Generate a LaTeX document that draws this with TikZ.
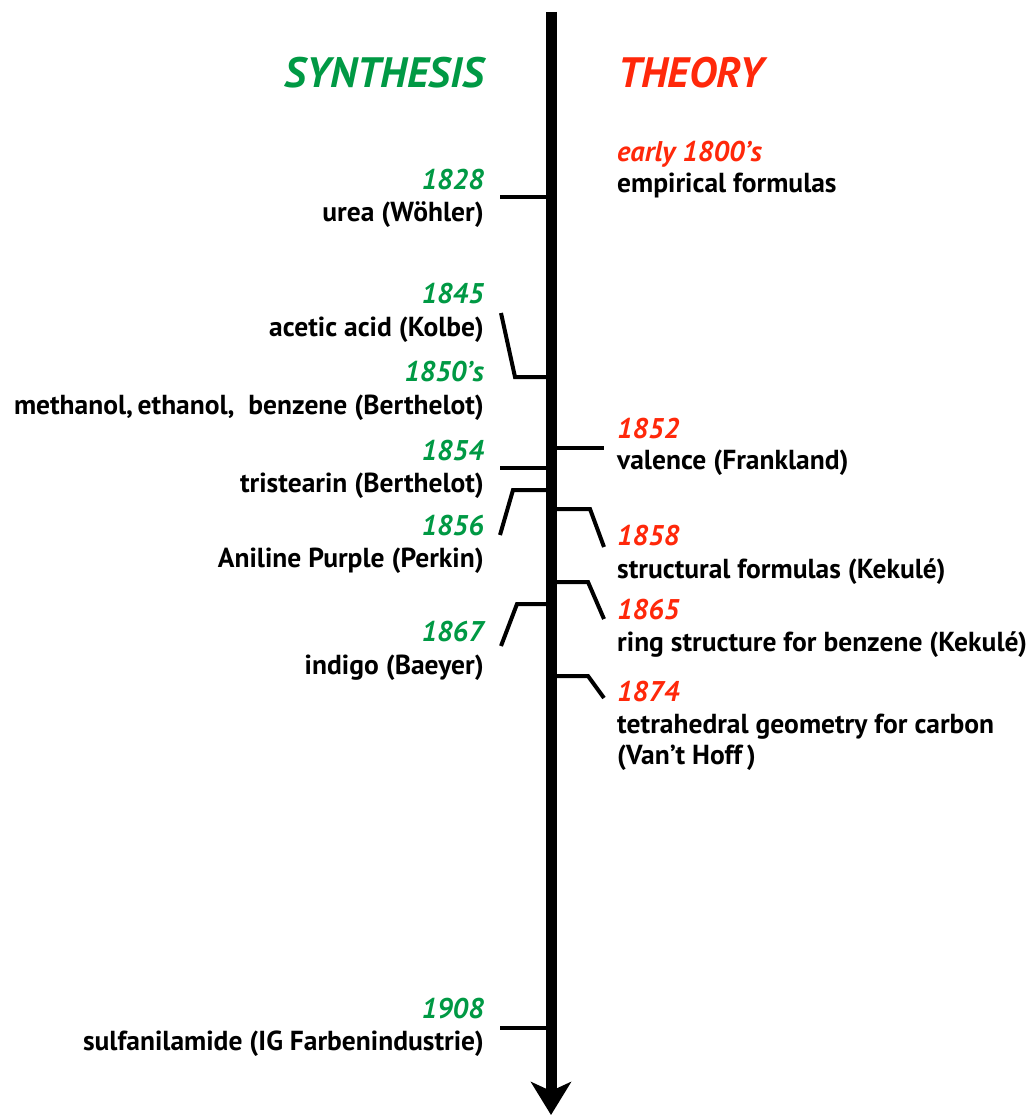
\documentclass[tikz,border=0pt]{standalone}
\usepackage{fontspec}
\setmainfont{PT Sans}
\usetikzlibrary{arrows.meta}
\definecolor{synthgreen}{RGB}{0,153,68}
\definecolor{theoryred}{RGB}{255,40,10}

\begin{document}
\begin{tikzpicture}[x=1pt, y=-1pt,
    stub/.style={line width=4pt},
    txt/.style={inner sep=0pt, font=\fontsize{27.5}{32}\selectfont\bfseries},
    txtL/.style={txt, anchor=base east},
    txtR/.style={txt, anchor=base west},
    yrL/.style={txtL, text=synthgreen, font=\fontsize{28.5}{32}\selectfont\bfseries\itshape},
    yrR/.style={txtR, text=theoryred, font=\fontsize{28.5}{32}\selectfont\bfseries\itshape},
    head/.style={inner sep=0pt, font=\fontsize{42.5}{50}\selectfont\bfseries\itshape}]
  \useasboundingbox (0,0) rectangle (1034,1116);
  % headings
  \node[head, anchor=base east, text=synthgreen] (synth) at (484,88) {SYNTHESIS};
  \node[head, anchor=base west, text=theoryred] (theory) at (618,88) {THEORY};
  % synthesis side
  \node[yrL] (y1828) at (484,189) {1828};
  \node[txtL] (urea) at (484,221) {urea (Wöhler)};
  \node[yrL] (y1845) at (484,303) {1845};
  \node[txtL] (acetic) at (484,336) {acetic acid (Kolbe)};
  \node[yrL] (y1850) at (484,381) {1850’s};
  \node[txtL] (methanol) at (484,414) {methanol,\,ethanol,\enspace benzene (Berthelot)};
  \node[yrL] (y1854) at (484,460) {1854};
  \node[txtL] (tristearin) at (484,492) {tristearin (Berthelot)};
  \node[yrL] (y1856) at (484,535) {1856};
  \node[txtL] (aniline) at (484,567) {Aniline Purple (Perkin)};
  \node[yrL] (y1867) at (484,641) {1867};
  \node[txtL] (indigo) at (484,674) {indigo (Baeyer)};
  \node[yrL] (y1908) at (484,1018) {1908};
  \node[txtL] (sulfa) at (484,1050) {sulfanilamide (IG Farbenindustrie)};
  % theory side
  \node[yrR] (y1800) at (617,161) {early 1800’s};
  \node[txtR] (empirical) at (617,192) {empirical formulas};
  \node[yrR] (y1852) at (617,438) {1852};
  \node[txtR] (valence) at (617,469) {valence (Frankland)};
  \node[yrR] (y1858) at (617,545) {1858};
  \node[txtR] (structural) at (617,578) {structural formulas (Kekulé)};
  \node[yrR] (y1865) at (617,619) {1865};
  \node[txtR] (ring) at (617,651) {ring structure for benzene (Kekulé)};
  \node[yrR] (y1874) at (617,701) {1874};
  \node[txtR] (tetra) at (617,733) {tetrahedral geometry for carbon};
  \node[txtR] (vanthoff) at (617,764) {(Van’t Hoff\,)};
  % ticks, left
  \draw[stub] (551,197) -- (500,197);
  \draw[stub] (551,377) -- (515,377) -- (501,313);
  \draw[stub] (551,468) -- (500,468);
  \draw[stub] (551,490) -- (513,490) -- (500,535);
  \draw[stub] (551,604) -- (517,604) -- (501,646);
  \draw[stub] (551,1028) -- (500,1028);
  % ticks, right
  \draw[stub] (551,448) -- (604,448);
  \draw[stub] (551,509) -- (590,509) -- (604,547);
  \draw[stub] (551,582) -- (588,582) -- (604,619);
  \draw[stub] (551,676) -- (588,676) -- (604,698);
  % time axis
  \coordinate (top) at (551,12);
  \coordinate (bottom) at (551,1115);
  \draw[line width=11pt, -{Stealth[length=33pt, width=40pt, inset=9pt]}] (top) -- (bottom);
\end{tikzpicture}
\end{document}
